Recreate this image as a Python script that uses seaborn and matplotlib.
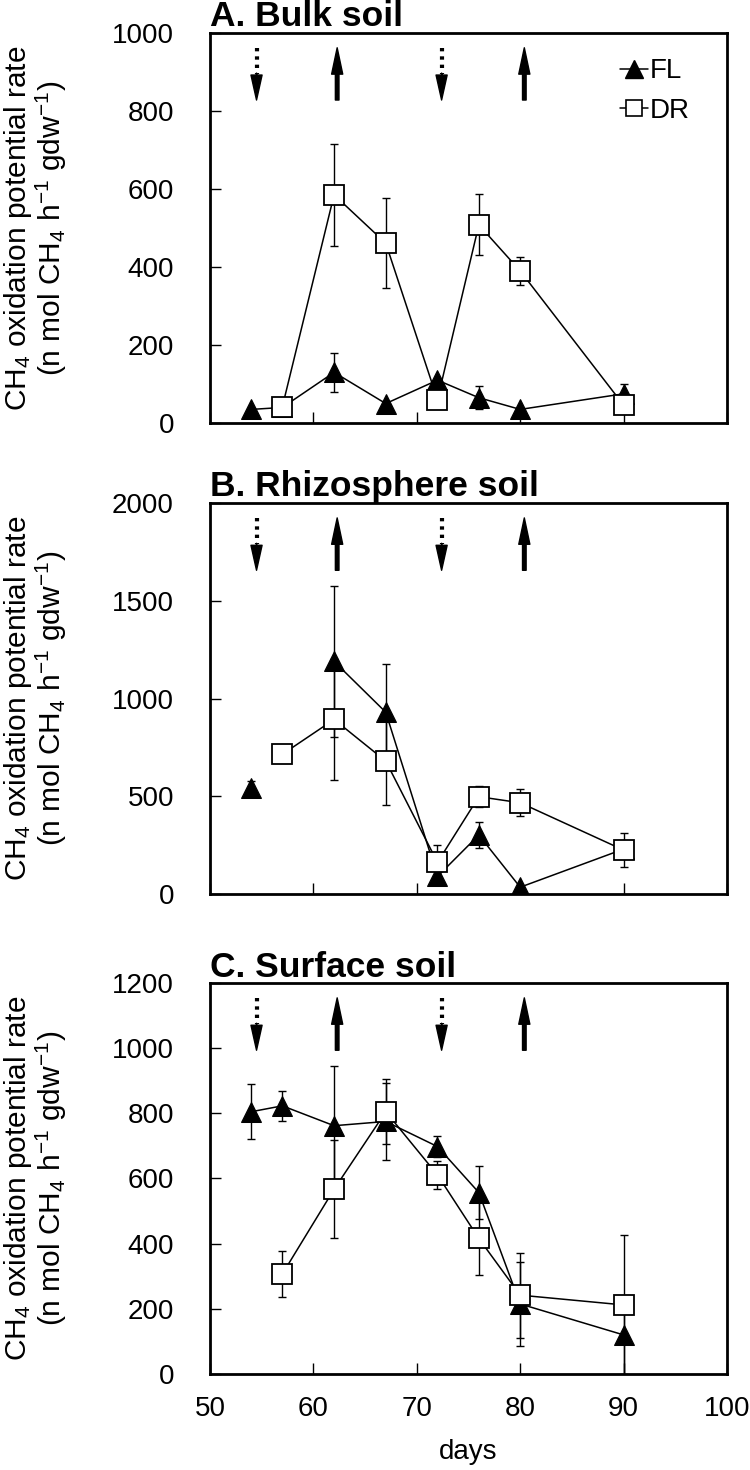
import numpy as np
import pandas as pd
import matplotlib
matplotlib.use('Agg')
import matplotlib.pyplot as plt
from matplotlib.lines import Line2D
from matplotlib.transforms import blended_transform_factory
import seaborn as sns

sns.set_theme(style='white')
plt.rcParams['font.family'] = ['Liberation Sans', 'DejaVu Sans']
plt.rcParams['mathtext.fontset'] = 'custom'
plt.rcParams['mathtext.rm'] = 'Liberation Sans'
plt.rcParams['mathtext.it'] = 'Liberation Sans:italic'
plt.rcParams['mathtext.default'] = 'regular'
for k in ('text.color', 'axes.labelcolor', 'xtick.color', 'ytick.color'):
    plt.rcParams[k] = 'black'

nan = np.nan
days = [54, 57, 62, 67, 72, 76, 80, 90]

# A. Bulk soil
bulk_fl = [35, 40, 130, 50, 110, 65, 35, 75]
bulk_fl_sd = [0, 0, 50, 0, 0, 30, 0, 25]
bulk_dr = [nan, 42, 585, 461, 60, 508, 390, 46]
bulk_dr_sd = [nan, 0, 130, 115, 0, 78, 35, 0]

# B. Rhizosphere soil
rhizo_fl = [540, nan, 1190, 930, 90, 302, 35, 230]
rhizo_fl_sd = [40, nan, 385, 245, 0, 65, 0, 0]
rhizo_dr = [nan, 715, 893, 680, 162, 498, 467, 225]
rhizo_dr_sd = [nan, 0, 310, 225, 90, 55, 70, 85]

# C. Surface soil
surf_fl = [805, 823, 762, 775, 698, 557, 215, 120]
surf_fl_sd = [85, 47, 183, 118, 33, 80, 130, 120]
surf_dr = [nan, 307, 567, 805, 611, 416, 242, 212]
surf_dr_sd = [nan, 70, 150, 100, 43, 112, 130, 215]

drain_days = [54.5, 72.4]   # dotted down arrows
flood_days = [62.3, 80.4]   # solid up arrows

titles = ['A. Bulk soil', 'B. Rhizosphere soil', 'C. Surface soil']
ylims = [(0, 1000), (0, 2000), (0, 1200)]
ysteps = [200, 500, 200]
xticks = [50, 60, 70, 80, 90, 100]
ylabel = 'CH$_4$ oxidation potential rate\n(n mol CH$_4$ h$^{-1}$ gdw$^{-1}$)'

panels = [
    (bulk_fl, bulk_fl_sd, bulk_dr, bulk_dr_sd),
    (rhizo_fl, rhizo_fl_sd, rhizo_dr, rhizo_dr_sd),
    (surf_fl, surf_fl_sd, surf_dr, surf_dr_sd),
]

fig = plt.figure(figsize=(7.5, 14.7), dpi=100)
left, right = 0.28, 0.9693
boxes = [(0.7122, 0.9776), (0.3918, 0.6578), (0.0653, 0.3313)]


def runs(x, y):
    df = pd.DataFrame({'day': x, 'val': y})
    ok = df['val'].notna()
    grp = (ok != ok.shift()).cumsum()
    return [g for _, g in df[ok].groupby(grp[ok])]


style = {
    'FL': dict(marker='^', markersize=15, markerfacecolor='black',
               markeredgecolor='black', zorder=3),
    'DR': dict(marker='s', markersize=14, markerfacecolor='white',
               markeredgecolor='black', markeredgewidth=1.3, zorder=4),
}

for i, (ax_box, data) in enumerate(zip(boxes, panels)):
    b, t = ax_box
    ax = fig.add_axes([left, b, right - left, t - b])
    fl, fl_sd, dr, dr_sd = data
    for name, vals, sds in (('FL', fl, fl_sd), ('DR', dr, dr_sd)):
        v = np.array(vals, float)
        s = np.array(sds, float)
        d = np.array(days, float)
        m = ~np.isnan(v) & (np.nan_to_num(s) > 0)
        ax.errorbar(d[m], v[m], yerr=s[m], fmt='none', ecolor='black',
                    elinewidth=1.0, capsize=3, capthick=1.0, zorder=2)
        for g in runs(days, vals):
            sns.lineplot(data=g, x='day', y='val', ax=ax, color='black',
                         lw=1.1, estimator=None, sort=False, legend=False,
                         **style[name])
    ax.set_xlim(50, 100)
    ax.set_ylim(*ylims[i])
    ax.set_xticks(xticks)
    ax.set_yticks(np.arange(ylims[i][0], ylims[i][1] + 1, ysteps[i]))
    ax.tick_params(direction='in', length=8, width=1, colors='black',
                   labelsize=20, bottom=True, left=True, top=False, right=False)
    ax.tick_params(axis='y', pad=26)
    ax.tick_params(axis='x', pad=16)
    for sp in ax.spines.values():
        sp.set_linewidth(2)
        sp.set_color('black')
    ax.set_title(titles[i], loc='left', fontweight='bold', fontsize=25.5,
                 pad=4, color='black')
    ax.set_ylabel(ylabel, fontsize=21.5, linespacing=1.0)
    ax.yaxis.set_label_coords(-0.272, 0.5)
    if i < 2:
        ax.set_xticklabels([])
        ax.set_xlabel('')
    else:
        ax.set_xlabel('days', fontsize=20, labelpad=12)

    trans = blended_transform_factory(ax.transData, ax.transAxes)
    for xd in drain_days:
        ax.plot([xd, xd], [0.962, 0.895], transform=trans, color='black',
                lw=3, ls=(0, (0.8, 1.2)), solid_capstyle='butt')
        ax.annotate('', xy=(xd, 0.828), xytext=(xd, 0.897), xycoords=trans,
                    textcoords=trans,
                    arrowprops=dict(facecolor='black', edgecolor='black',
                                    width=0.1, headwidth=8, headlength=18,
                                    shrink=0))
    for xd in flood_days:
        ax.annotate('', xy=(xd, 0.962), xytext=(xd, 0.828), xycoords=trans,
                    textcoords=trans,
                    arrowprops=dict(facecolor='black', edgecolor='black',
                                    width=2.6, headwidth=8, headlength=19,
                                    shrink=0))
    if i == 0:
        handles = [Line2D([], [], color='black', lw=1.1, marker='^',
                          markersize=13, markerfacecolor='black',
                          markeredgecolor='black'),
                   Line2D([], [], color='black', lw=1.1, marker='s',
                          markersize=11, markerfacecolor='white',
                          markeredgecolor='black', markeredgewidth=1.2)]
        ax.legend(handles, ['FL', 'DR'], loc='upper right', frameon=False,
                  fontsize=20, handlelength=1.0, handletextpad=0.05,
                  labelspacing=0.5, borderaxespad=0.3,
                  bbox_to_anchor=(0.965, 0.985), labelcolor='black')

fig.savefig('out.png', dpi=100)
